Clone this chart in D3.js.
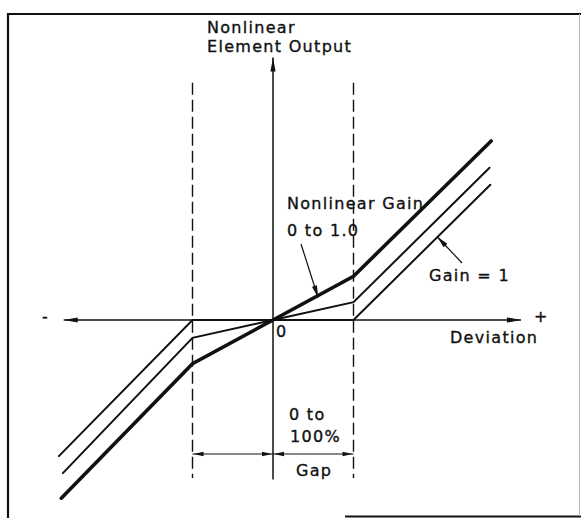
<!DOCTYPE html>
<html>
<head>
<meta charset="utf-8">
<script src="https://cdn.jsdelivr.net/npm/d3@7"></script>
<style>
  html, body { margin: 0; padding: 0; background: #fff; }
  svg text { font-family: "DejaVu Sans", sans-serif; font-size: 16px; letter-spacing: 1.3px; fill: #111; stroke: #111; stroke-width: 0.35px; }
</style>
</head>
<body>
<div id="chart"></div>
<script>
// deviation units: the gap edges sit at -1 and +1
var gapEdges = [-1, 1]

// Gain = 1 (no output inside the gap)
var gainOneX = [-2.66, -1, 1, 2.70]
var gainOneY = [-1.68, 0, 0, 1.67]
// low nonlinear gain
var lowGainX = [-2.61, -1, 0, 1, 2.69]
var lowGainY = [-1.89, -0.22, 0, 0.22, 1.88]
// higher nonlinear gain (heavy line)
var highGainX = [-2.63, -1, 0, 1, 2.71]
var highGainY = [-2.20, -0.54, 0, 0.54, 2.21]

var width = 581, height = 518

var svg = d3.select('#chart').append('svg')
  .attr('width', width).attr('height', height)

var x = d3.scaleLinear().domain([-1, 1]).range([192.5, 353.5])
var y = d3.scaleLinear().domain([-1, 1]).range([401, 239])

var ink = '#111'

// frame
var frame = svg.append('g').attr('stroke', ink).attr('fill', 'none')
frame.append('line').attr('x1', 8).attr('y1', 14).attr('x2', 581).attr('y2', 14).attr('stroke-width', 2)
frame.append('line').attr('x1', 8).attr('y1', 13).attr('x2', 8).attr('y2', 518).attr('stroke-width', 2.2)
frame.append('line').attr('x1', 345).attr('y1', 516.5).attr('x2', 581).attr('y2', 516.5).attr('stroke-width', 2)
frame.append('line').attr('x1', 579.5).attr('y1', 14).attr('x2', 579.5).attr('y2', 516).attr('stroke-width', 1).attr('stroke', '#bbb')

function arrowHead(g, tx, ty, angle, len, half) {
  len = len || 12; half = half || 3
  var c = Math.cos(angle), s = Math.sin(angle)
  var bx = tx - c * len, by = ty - s * len
  var pts = [[tx, ty], [bx - s * half, by + c * half], [bx + s * half, by - c * half]]
  g.append('path').attr('d', 'M' + pts.join('L') + 'Z').attr('fill', ink).attr('stroke', 'none')
}

// dashed gap edges
svg.selectAll('line.gap').data(gapEdges).enter().append('line')
  .attr('class', 'gap')
  .attr('x1', d => x(d)).attr('x2', d => x(d))
  .attr('y1', y(2.93)).attr('y2', y(-1.95))
  .attr('stroke', ink).attr('stroke-width', 1.4)
  .attr('stroke-dasharray', '12,5')

// axes
var axes = svg.append('g')
axes.append('line').attr('x1', x(-2.6)).attr('x2', x(3.08)).attr('y1', y(0)).attr('y2', y(0))
  .attr('stroke', ink).attr('stroke-width', 1.5)
arrowHead(axes, x(-2.6), y(0), Math.PI, 14, 2.6)
arrowHead(axes, x(3.08), y(0), 0, 14, 2.6)
axes.append('line').attr('x1', x(0)).attr('x2', x(0)).attr('y1', y(-1.97)).attr('y2', y(3.24))
  .attr('stroke', ink).attr('stroke-width', 1.5)
arrowHead(axes, x(0), y(3.24), -Math.PI / 2, 14, 2.6)

// characteristic curves
var line = d3.line().x(d => x(d[0])).y(d => y(d[1]))
var series = [
  { xs: gainOneX, ys: gainOneY, w: 2 },
  { xs: lowGainX, ys: lowGainY, w: 2 },
  { xs: highGainX, ys: highGainY, w: 3.6 }
]
svg.selectAll('path.curve').data(series).enter().append('path')
  .attr('class', 'curve')
  .attr('d', s => line(d3.zip(s.xs, s.ys)))
  .attr('fill', 'none').attr('stroke', ink)
  .attr('stroke-width', s => s.w)
  .attr('stroke-linejoin', 'miter').attr('stroke-linecap', 'round')

// leader arrows
var lead = svg.append('g').attr('stroke', ink).attr('stroke-width', 1.2)
function leader(x1, y1, x2, y2) {
  lead.append('line').attr('x1', x1).attr('y1', y1).attr('x2', x2).attr('y2', y2)
  arrowHead(lead, x2, y2, Math.atan2(y2 - y1, x2 - x1), 12, 2.6)
}
// to the heavy line
leader(301, 244, x(0.56), y(0.54 * 0.56) + 2)
// to the gain = 1 line
leader(462, 263, x(2.04), y(1.04) + 1)

// gap dimension arrows
var dimY = 454
var dim = svg.append('g').attr('stroke', ink).attr('stroke-width', 1.2)
;[[gapEdges[0], 0], [0, gapEdges[1]]].forEach(function (seg) {
  var a = x(seg[0]), b = x(seg[1])
  dim.append('line').attr('x1', a).attr('x2', b).attr('y1', dimY).attr('y2', dimY)
  arrowHead(dim, a + 1, dimY, Math.PI, 10, 2.2)
  arrowHead(dim, b - 1, dimY, 0, 10, 2.2)
})

// labels
var labels = svg.append('g')
function label(t, lx, ly) {
  labels.append('text').attr('x', lx).attr('y', ly).text(t)
}
label('Nonlinear', 207, 33)
label('Element Output', 207, 52)
label('Nonlinear Gain', 287, 209)
label('0 to 1.0', 287, 236)
label('Gain = 1', 429, 281)
label('Deviation', 450, 343)
label('0', 276, 337)
label('0 to', 289, 420)
label('100%', 290, 442)
label('Gap', 296, 476)
label('+', 534, 322)
label('-', 42, 322)
</script>
</body>
</html>
